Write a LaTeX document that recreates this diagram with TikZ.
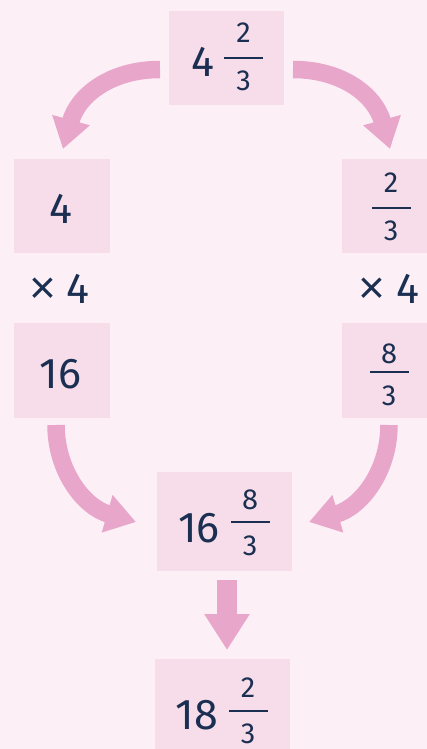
\documentclass[tikz,border=0pt]{standalone}
\usepackage{fontspec}
\setmainfont{Fira Sans}
\newfontfamily\timesfont{Liberation Sans}
\usetikzlibrary{arrows.meta}
\definecolor{bg}{HTML}{FCF0F6}
\definecolor{boxc}{HTML}{F6DDE9}
\definecolor{arr}{HTML}{E8A7CA}
\definecolor{ink}{HTML}{1B2F52}
\newcommand\mulsign{{\timesfont\fontsize{46}{46}\selectfont ×}}
\begin{document}
\begin{tikzpicture}[x=1pt,y=-1pt,
  box/.style={fill=boxc, draw=none, inner sep=0pt},
  big/.style={text=ink, font=\fontsize{43}{43}\selectfont, anchor=base, inner sep=0pt},
  small/.style={text=ink, font=\fontsize{29}{29}\selectfont, anchor=base, inner sep=0pt},
  fbar/.style={fill=ink, draw=none, minimum width=39pt, minimum height=2.5pt, inner sep=0pt},
  flow/.style={draw=arr, line width=17.5pt, -{Triangle[width=37pt,length=30pt]}},
  downflow/.style={draw=arr, line width=20pt, -{Triangle[width=43pt,length=36pt]}},
]
\useasboundingbox (0,0) rectangle (427,749);
\clip (0,0) rectangle (427,749);
\fill[bg] (0,0) rectangle (427,749);

% boxes
\node[box, minimum width=115pt, minimum height=94pt] (top) at (226.5,58) {};
\node[box, minimum width=96pt, minimum height=94pt] (la) at (62,206) {};
\node[box, minimum width=96pt, minimum height=95pt] (lb) at (62,370.5) {};
\node[box, minimum width=96pt, minimum height=94pt] (ra) at (390,206) {};
\node[box, minimum width=96pt, minimum height=95pt] (rb) at (390,370.5) {};
\node[box, minimum width=135pt, minimum height=99pt] (mid) at (224.5,521.5) {};
\node[box, minimum width=135pt, minimum height=104pt] (bot) at (222.5,711) {};

% top box: 4 2/3
\node[big] (topw) at (203,77) {4};
\node[small] (topn) at (243.5,43) {2};
\node[fbar] (topb) at (243.5,58) {};
\node[small] (topd) at (243.5,91) {3};

% left column
\node[big] (law) at (61,223) {4};
\node[big] (lmul) at (59.5,303) {\mulsign\hspace{11pt}4};
\node[big] (lbw) at (60.5,388) {16};

% right column
\node[small] (ran) at (391,192) {2};
\node[fbar] (rab) at (391,208) {};
\node[small] (rad) at (391,240) {3};
\node[big] (rmul) at (389,303) {\mulsign\hspace{11pt}4};
\node[small] (rbn) at (389,363) {8};
\node[fbar] (rbb) at (389,372) {};
\node[small] (rbd) at (389,405) {3};

% middle box: 16 8/3
\node[big] (midw) at (199,542) {16};
\node[small] (midn) at (250,509) {8};
\node[fbar] (midb) at (250,522) {};
\node[small] (midd) at (250,555) {3};

% bottom box: 18 2/3
\node[big] (botw) at (197,729) {18};
\node[small] (botn) at (248,697) {2};
\node[fbar] (botb) at (248,711) {};
\node[small] (botd) at (248,743) {3};

% arrows
\coordinate (tl0) at (160,69.5);
\coordinate (tl1) at (63,149);
\draw[flow] (tl0) .. controls (110,69.5) and (77.7,95.8) .. (tl1);
\coordinate (tr0) at (293,69.5);
\coordinate (tr1) at (390,149);
\draw[flow] (tr0) .. controls (343,69.5) and (375.3,95.8) .. (tr1);
\coordinate (bl0) at (56,425);
\coordinate (bl1) at (136,522);
\draw[flow] (bl0) .. controls (56,470) and (83.1,506.8) .. (bl1);
\coordinate (br0) at (389,425);
\coordinate (br1) at (309,522);
\draw[flow] (br0) .. controls (389,470) and (361.9,506.8) .. (br1);
\coordinate (d0) at (227,580);
\coordinate (d1) at (227,650);
\draw[downflow] (d0) -- (d1);
\end{tikzpicture}
\end{document}
